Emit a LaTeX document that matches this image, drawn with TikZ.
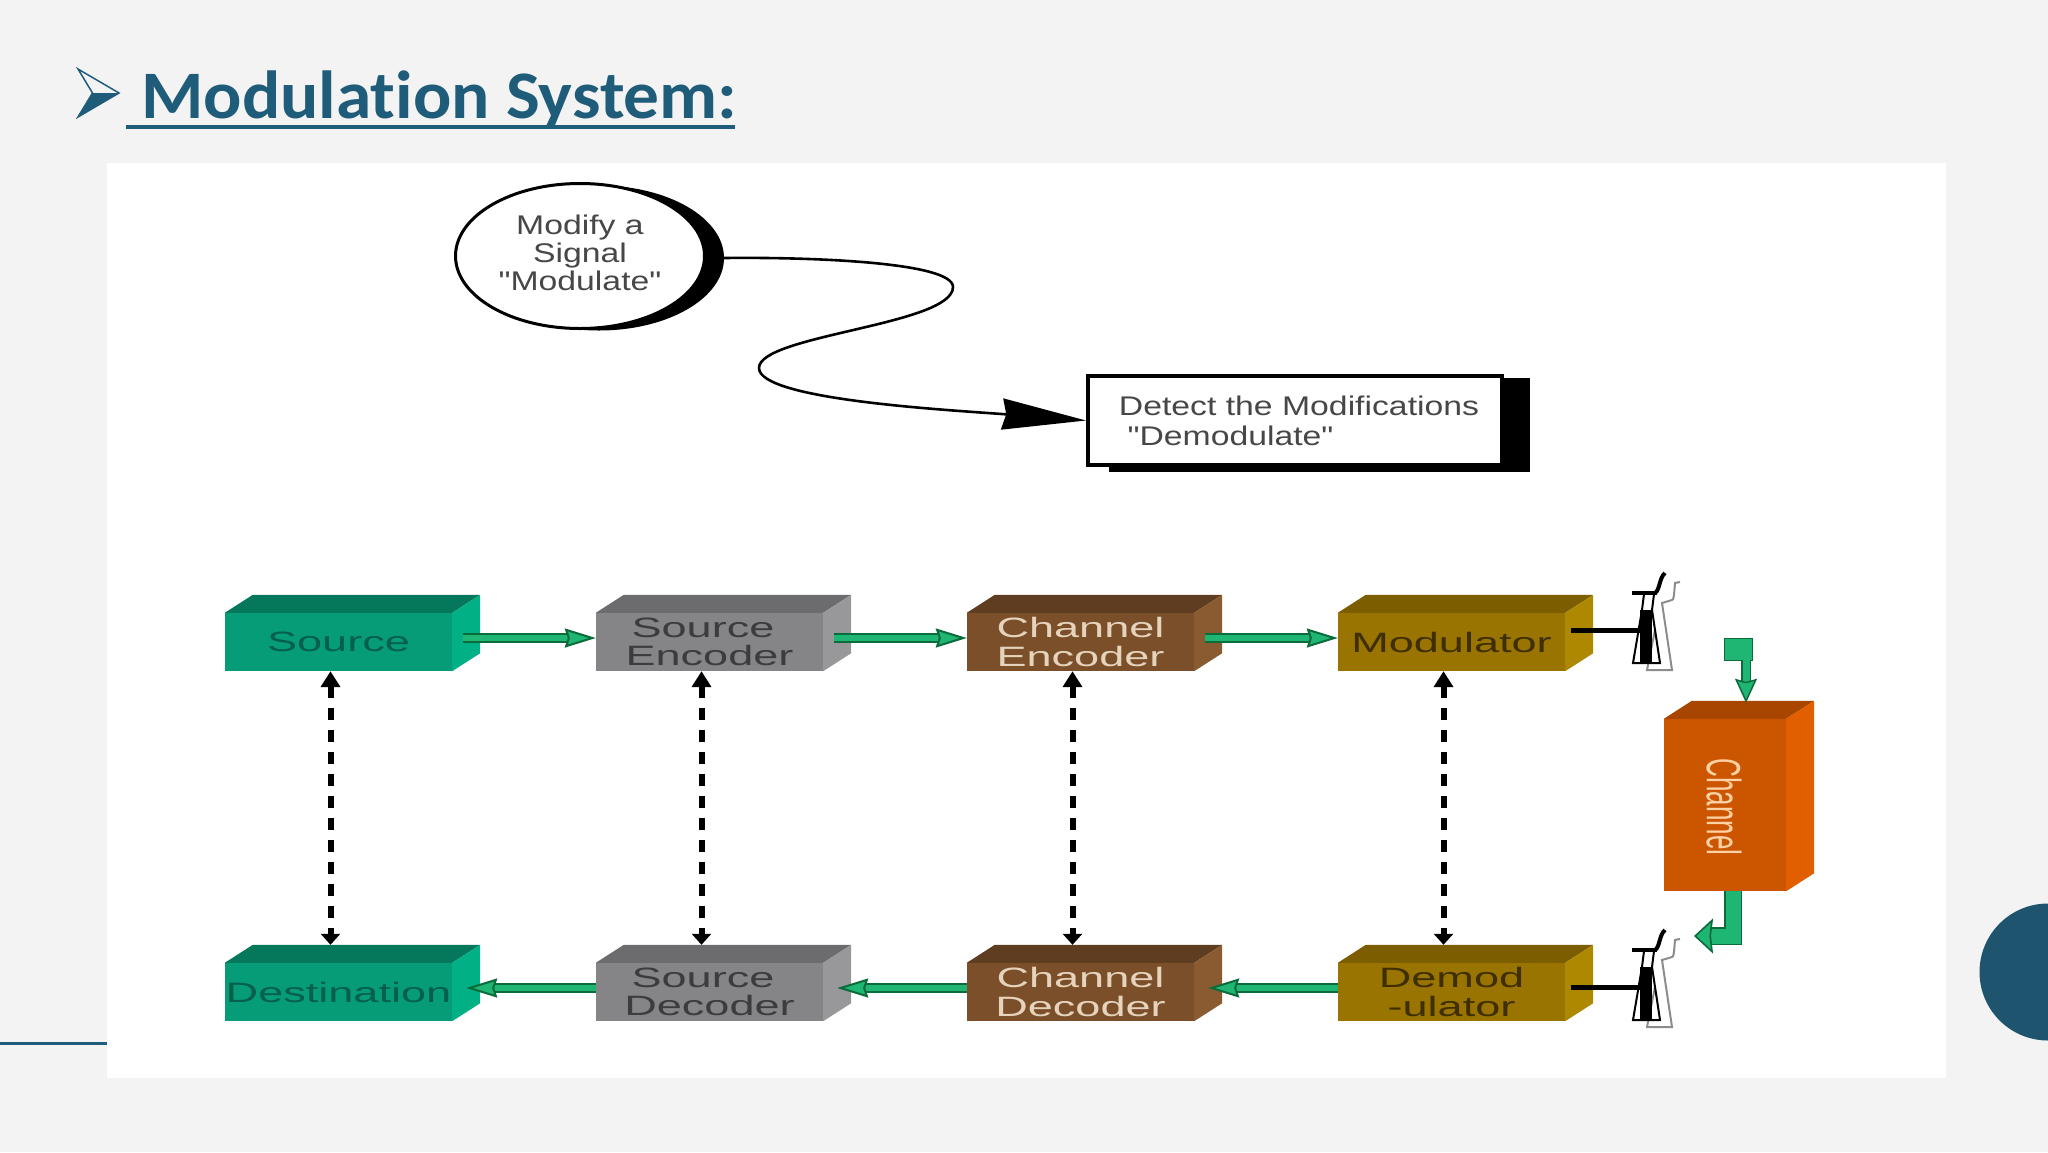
\documentclass[tikz,border=0pt]{standalone}
\usepackage{fontspec}
\usepackage{tikz}
\usetikzlibrary{arrows.meta}
\usetikzlibrary{shapes}
\setmainfont{Liberation Sans}
\newfontfamily\titlefont[Ligatures=NoCommon, FakeStretch=1.05]{Carlito}
\newfontfamily\blockfont[FakeStretch=1.61]{Liberation Sans}
\newfontfamily\notefont[FakeStretch=1.25]{Liberation Sans}

\definecolor{pageBg}{HTML}{F3F3F4}
\definecolor{slideBlue}{HTML}{1F5C7A}
\definecolor{discBlue}{HTML}{1E546E}
\definecolor{arrowFill}{HTML}{1FB573}
\definecolor{arrowEdge}{HTML}{0C6B3A}
\definecolor{greenFace}{HTML}{069C78}
\definecolor{greenTop}{HTML}{05785C}
\definecolor{greenSide}{HTML}{02B085}
\definecolor{greenText}{HTML}{045F4C}
\definecolor{greyFace}{HTML}{858587}
\definecolor{greyTop}{HTML}{6C6C6E}
\definecolor{greySide}{HTML}{98989A}
\definecolor{greyText}{HTML}{3C3C40}
\definecolor{brownFace}{HTML}{7A4F2A}
\definecolor{brownTop}{HTML}{5F3D20}
\definecolor{brownSide}{HTML}{8A5B31}
\definecolor{brownText}{HTML}{E6D3BC}
\definecolor{goldFace}{HTML}{9A7400}
\definecolor{goldTop}{HTML}{7C5E00}
\definecolor{goldSide}{HTML}{AD8800}
\definecolor{goldText}{HTML}{3F2F00}
\definecolor{orangeFace}{HTML}{CC5500}
\definecolor{orangeTop}{HTML}{A84600}
\definecolor{orangeSide}{HTML}{E25F00}

% tower at the end of a block, drawn around one coordinate
\newcommand{\drawtower}[1]{
	\begin{scope}[shift={(#1)}]
		\draw[black!45, line width=2pt] (39,-48) -- (34,-47) .. controls (33,-36) and (33,-30) .. (31,-30)
			-- (21,-27) -- (31,40) -- (6,40) -- (14,0);
		\fill[black] (-1,-20) rectangle (11,33);
		\draw[black, line width=2pt] (1,-20) -- (-8,33) -- (19,33) -- (11,-20);
		\draw[black, line width=2pt] (3,-36) -- (1,-20) (13,-36) -- (11,-20);
		\draw[black, line width=4pt] (-9,-37) -- (16,-37);
		\draw[black, line width=4pt] (14,-37) .. controls (19,-40) and (18,-52) .. (24,-57);
	\end{scope}
}

\begin{document}
\begin{tikzpicture}[x=1pt, y=-1pt, node distance=371pt]
	\tikzstyle{block} = [minimum width=227pt, minimum height=58pt, inner sep=0pt,
		align=center, font=\blockfont\fontsize{28}{28.5}\selectfont]
	\tikzstyle{greenblock} = [block, fill=greenFace, text=greenText]
	\tikzstyle{greyblock} = [block, fill=greyFace, text=greyText]
	\tikzstyle{brownblock} = [block, fill=brownFace, text=brownText]
	\tikzstyle{goldblock} = [block, fill=goldFace, text=goldText]
	\tikzstyle{note} = [inner sep=0pt, align=center, text=black!72,
		font=\notefont\fontsize{27}{29}\selectfont]
	\tikzstyle{flow} = [line width=2pt, draw=arrowEdge, double=arrowFill, double distance=6pt,
		-{Stealth[length=31pt, width=19pt, inset=3pt, fill=arrowFill]}]
	\tikzstyle{bigflow} = [line width=1.6pt, draw=arrowEdge, double=arrowFill, double distance=15pt,
		-{Stealth[length=19pt, width=35pt, inset=2pt, fill=arrowFill]}]
	\tikzstyle{link} = [line width=6pt, dash pattern=on 12pt off 10pt, black,
		{Stealth[length=16pt, width=19pt, inset=0pt]}-{Stealth[length=11pt, width=19pt, inset=0pt]}]

	\useasboundingbox (0,0) rectangle (2048,1152);
	\fill[pageBg] (0,0) rectangle (2048,1152);

	% slide furniture
	\draw[slideBlue, line width=3pt] (0,1043) -- (107,1043);
	\fill[discBlue] (2048,972) circle [radius=68.5pt];
	\fill[white] (107,163) rectangle (1946,1078);

	% title
	\node[anchor=base west, inner sep=0pt, text=slideBlue,
		font=\titlefont\bfseries\fontsize{68}{70}\selectfont] (title) at (141,118) {Modulation System:};
	\draw[slideBlue, line width=4.5pt] (126,127) -- (735,127);
	\fill[slideBlue] (119,93) -- (92.5,93) -- (78,117) -- cycle;
	\draw[slideBlue, line width=1.5pt, line join=miter] (78,69) -- (119,93) -- (78,117) -- (92.5,93) -- cycle;

	% upper sketch
	\node[ellipse, fill=black, minimum width=250pt, minimum height=145pt, inner sep=0pt] (modshadow) at (599,258) {};
	\node[ellipse, draw, fill=white, line width=3pt, minimum width=249pt, minimum height=145pt, inner sep=0pt] (modify) at (580,256) {};
	\node[note, font=\notefont\fontsize{27}{28}\selectfont] (modifytext) at (580,253) {Modify a\\Signal\\"Modulate"};

	\fill[black] (1109,378) rectangle (1530,472);
	\node[draw, fill=white, line width=4pt, minimum width=414pt, minimum height=89pt] (detect) at (1295,420.5) {};
	\node[note] (detecttext) at (1299,421) {Detect the Modifications\\[1pt]\hspace*{-137pt}"Demodulate"};

	\draw[black, line width=2.6pt, -{Stealth[length=84pt, width=31pt, inset=4pt]}]
		(modshadow.east) .. controls (810,257) and (953,262) .. (953,287)
		.. controls (953,325) and (759,335) .. (759,368)
		.. controls (759,400) and (950,410) .. (detect.west);

	% block rows
	\path
		node[greenblock] (src) at (338.5,642) {Source}
		node[greyblock, right of=src] (srcenc) {\hspace*{-13pt}Source\\Encoder}
		node[brownblock, right of=srcenc] (chanenc) {Channel\\Encoder}
		node[goldblock, right of=chanenc] (mod) {Modulator}

		node[greenblock, below of=src, node distance=350pt] (dst) {Destination}
		node[greyblock, below of=srcenc, node distance=350pt] (srcdec) {\hspace*{-13pt}Source\\Decoder}
		node[brownblock, below of=chanenc, node distance=350pt] (chandec) {Channel\\Decoder}
		node[goldblock, below of=mod, node distance=350pt] (demod) {Demod\\-ulator}

		node[fill=orangeFace, minimum width=122pt, minimum height=172pt, inner sep=0pt] (chan) at (1725,805) {}
	;
	\node[rotate=-90, inner sep=0pt, text=orange!35!white, font=\fontsize{26}{27}\selectfont] (chantext) at (1724,807)
		{\scalebox{1}[1.85]{Channel}};

	% top and side faces
	\foreach \n/\col in {src/green, srcenc/grey, chanenc/brown, mod/gold, dst/green,
		srcdec/grey, chandec/brown, demod/gold, chan/orange} {
		\fill[\col Top] (\n.north west) -- ([shift={(28pt,18pt)}]\n.north west)
			-- ([shift={(28pt,18pt)}]\n.north east) -- (\n.north east) -- cycle;
		\fill[\col Side] (\n.north east) -- ([shift={(28pt,18pt)}]\n.north east)
			-- ([shift={(28pt,18pt)}]\n.south east) -- (\n.south east) -- cycle;
	}

	% green flows
	\draw[flow] ([shift={(11pt,4pt)}]src.east) -- ([yshift=4pt]srcenc.west);
	\draw[flow] ([shift={(11pt,4pt)}]srcenc.east) -- ([yshift=4pt]chanenc.west);
	\draw[flow] ([shift={(11pt,4pt)}]chanenc.east) -- ([yshift=4pt]mod.west);
	\draw[flow] ([yshift=4pt]demod.west) -- ([shift={(14pt,4pt)}]chandec.east);
	\draw[flow] ([yshift=4pt]chandec.west) -- ([shift={(14pt,4pt)}]srcdec.east);
	\draw[flow] ([yshift=4pt]srcdec.west) -- ([shift={(14pt,4pt)}]dst.east);

	% dotted links
	\foreach \a/\b in {src/dst, srcenc/srcdec, chanenc/chandec, mod/demod} {
		\draw[link] ([xshift=-8pt]\a.south) -- ([shift={(-8pt,18pt)}]\b.north);
	}

	% towers
	\coordinate (modtower) at (1641,630);
	\coordinate (demodtower) at (1641,987);
	\drawtower{modtower}
	\drawtower{demodtower}
	\draw[black, line width=5pt] ([shift={(6pt,12pt)}]mod.center -| mod.east) -- (modtower);
	\draw[black, line width=5pt] ([shift={(6pt,5pt)}]demod.center -| demod.east) -- (demodtower);

	% channel in and out
	\node[draw=arrowEdge, fill=arrowFill, line width=1pt, minimum width=28pt, minimum height=22pt, inner sep=0pt] (chanin) at (1738,649) {};
	\draw[line width=1.5pt, draw=arrowEdge, double=arrowFill, double distance=7pt,
		-{Stealth[length=24pt, width=22pt, inset=3pt, fill=arrowFill]}]
		(1746,660) -- ([shift={(21pt,16pt)}]chan.north);
	\coordinate (chanout) at (1694,936);
	\draw[bigflow, line join=miter] ([xshift=8pt]chan.south) |- (chanout);
\end{tikzpicture}
\end{document}
